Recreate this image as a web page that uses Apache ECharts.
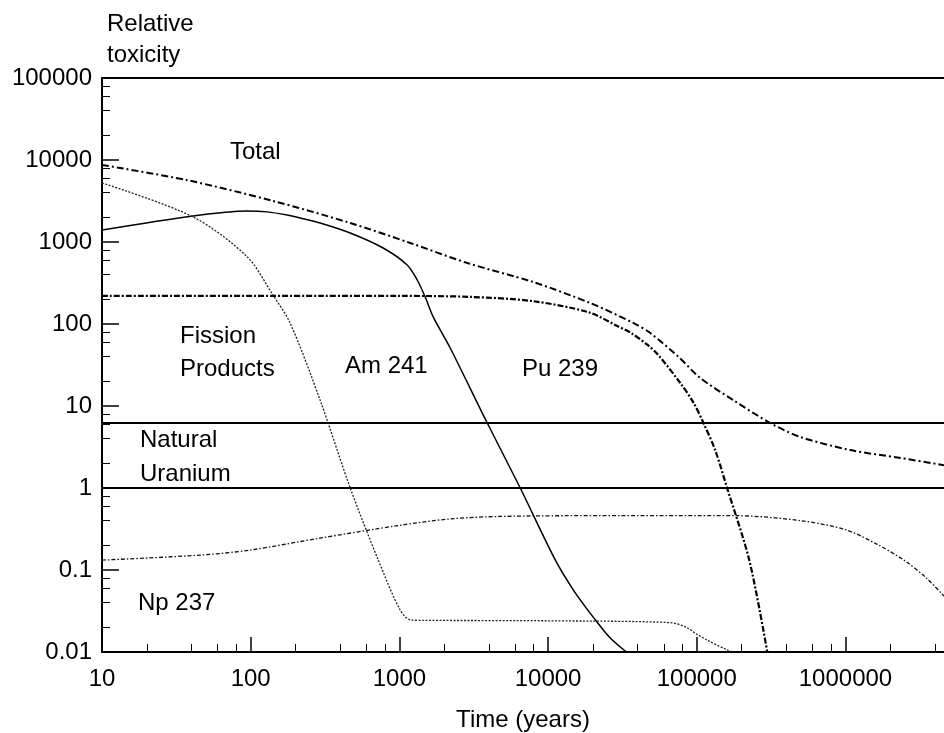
<!DOCTYPE html>
<html>
<head>
<meta charset="utf-8">
<title>Relative toxicity</title>
<script src="https://cdn.jsdelivr.net/npm/echarts@6/dist/echarts.min.js"></script>
<style>
  html, body { margin: 0; padding: 0; background: #fff; }
  #chart { width: 944px; height: 733px; }
</style>
</head>
<body>
<div id="chart"></div>
<script>
// values (years, relative toxicity)
var totalYears = [10, 37, 142, 467, 1183, 2860, 7940, 19200, 37400, 48700, 75000, 105800, 176000, 312000, 498000, 1080000, 2350000, 4600000];
var totalTox   = [8700, 5700, 3160, 1706, 973, 555, 325, 180, 103, 77.6, 40, 21.9, 11.8, 6.2, 4.19, 2.9, 2.32, 1.9];

var fpYears = [10, 300, 1000, 3000, 7900, 19000, 29000, 36000, 46500, 55000, 77600, 95000, 111000, 133000, 160000, 226000, 298000];
var fpTox   = [220, 220, 220, 214, 190, 138, 95, 78, 56, 42, 19, 11, 6.2, 2.9, 1.0, 0.13, 0.01];

var puYears = [10, 41, 95, 129, 176, 215, 293, 467, 778, 1128, 1318, 1492, 1688, 2197, 3900, 6500, 11200, 15000, 20000, 26000, 33600];
var puTox   = [1400, 2080, 2390, 2330, 2130, 1963, 1706, 1288, 845, 525, 344, 213, 122, 51, 6.2, 1.0, 0.132, 0.055, 0.027, 0.015, 0.01];

var amYears = [10, 41, 95, 141, 184, 293, 467, 719, 1012, 1200, 1500, 10350, 66400, 85000, 100000, 117000, 160000, 175000];
var amTox   = [5250, 2020, 656, 226, 103, 11.8, 1.0, 0.134, 0.0325, 0.0245, 0.0243, 0.024, 0.0228, 0.02, 0.0165, 0.014, 0.0106, 0.01];

var npYears = [10, 46, 99, 293, 1000, 2200, 4800, 22000, 180000, 500000, 1000000, 1600000, 2500000, 3500000, 4600000];
var npTox   = [0.132, 0.152, 0.175, 0.245, 0.35, 0.42, 0.45, 0.46, 0.46, 0.40, 0.31, 0.21, 0.13, 0.08, 0.048];

// natural uranium band
var uraniumLevels = [6.2, 1];

var xMin = 10, xMax = 4600000;
var yMin = 0.01, yMax = 100000;
var FONT = 'Liberation Sans, Arial, sans-serif';

function zip(xs, ys) {
  return xs.map(function (x, i) { return [x, ys[i]]; });
}

// minor ticks at 2, 4, 6, 8 of every decade
function minorTicks(fromExp, toExp, lo, hi) {
  var out = [];
  for (var e = fromExp; e <= toExp; e++) {
    [2, 4, 6, 8].forEach(function (m) {
      var v = +(m * Math.pow(10, e)).toPrecision(6);
      if (v > lo && v < hi) out.push(v);
    });
  }
  return out;
}

function fmt(v) { return String(+(+v).toPrecision(6)); }

var myChart = echarts.init(document.getElementById('chart'), null, { renderer: 'canvas' });

var lineBase = { type: 'line', symbol: 'none', smooth: 0.3, silent: true, animation: false };

var option = {
  backgroundColor: '#fff',
  animation: false,
  grid: { left: 102, right: 0, top: 78, bottom: 81, outerBoundsMode: 'none' },
  xAxis: [
    {
      type: 'log', logBase: 10, min: xMin, max: xMax, position: 'bottom',
      name: 'Time (years)', nameLocation: 'middle', nameGap: 56,
      nameTextStyle: { color: '#000', fontSize: 24, fontFamily: FONT },
      axisLine: { show: true, lineStyle: { color: '#000', width: 2 } },
      axisTick: { show: true, inside: true, length: 15, lineStyle: { color: '#000', width: 1.5 } },
      axisLabel: { color: '#000', fontSize: 24, fontFamily: FONT, margin: 15, showMaxLabel: false, formatter: fmt },
      splitLine: { show: false }
    },
    {
      type: 'log', logBase: 10, min: xMin, max: xMax, position: 'bottom',
      axisLine: { show: false },
      axisTick: { show: true, inside: true, length: 8, customValues: minorTicks(1, 6, xMin, xMax), lineStyle: { color: '#000', width: 1 } },
      axisLabel: { show: false },
      splitLine: { show: false }
    },
    {
      type: 'log', logBase: 10, min: xMin, max: xMax, position: 'top',
      axisLine: { show: true, lineStyle: { color: '#000', width: 2 } },
      axisTick: { show: false },
      axisLabel: { show: false },
      splitLine: { show: false }
    }
  ],
  yAxis: [
    {
      type: 'log', logBase: 10, min: yMin, max: yMax, position: 'left',
      axisLine: { show: true, lineStyle: { color: '#000', width: 2 } },
      axisTick: { show: true, inside: true, length: 17, lineStyle: { color: '#000', width: 1.5 } },
      axisLabel: { color: '#000', fontSize: 24, fontFamily: FONT, margin: 10, formatter: fmt },
      splitLine: { show: false }
    },
    {
      type: 'log', logBase: 10, min: yMin, max: yMax, position: 'left',
      axisLine: { show: false },
      axisTick: { show: true, inside: true, length: 8, customValues: minorTicks(-2, 4, yMin, yMax), lineStyle: { color: '#000', width: 1 } },
      axisLabel: { show: false },
      splitLine: { show: false }
    }
  ],
  series: [
    Object.assign({}, lineBase, { name: 'Natural Uranium upper', smooth: false, data: [[xMin, uraniumLevels[0]], [xMax, uraniumLevels[0]]], lineStyle: { color: '#000', width: 2.2 } }),
    Object.assign({}, lineBase, { name: 'Natural Uranium lower', smooth: false, data: [[xMin, uraniumLevels[1]], [xMax, uraniumLevels[1]]], lineStyle: { color: '#000', width: 2.2 } }),
    Object.assign({}, lineBase, { name: 'Total', data: zip(totalYears, totalTox), lineStyle: { color: '#000', width: 2, type: [7, 3, 2, 3] } }),
    Object.assign({}, lineBase, { name: 'Fission Products', data: zip(fpYears, fpTox), lineStyle: { color: '#000', width: 2.2, type: [6, 2, 2, 2] } }),
    Object.assign({}, lineBase, { name: 'Pu 239', data: zip(puYears, puTox), lineStyle: { color: '#000', width: 1.5 } }),
    Object.assign({}, lineBase, { name: 'Am 241', data: zip(amYears, amTox), lineStyle: { color: '#222', width: 1.3, type: [2, 1.5] } }),
    Object.assign({}, lineBase, { name: 'Np 237', data: zip(npYears, npTox), lineStyle: { color: '#111', width: 1.3, type: [4, 2, 1.5, 2] } })
  ],
  graphic: [
    { type: 'text', x: 107, y: 9, style: { text: 'Relative\ntoxicity', font: '24px ' + FONT, fill: '#000', lineHeight: 31, verticalAlign: 'top' } },
    { type: 'text', x: 230, y: 152, style: { text: 'Total', font: '24px ' + FONT, fill: '#000', verticalAlign: 'middle' } },
    { type: 'text', x: 180, y: 336, style: { text: 'Fission', font: '24px ' + FONT, fill: '#000', verticalAlign: 'middle' } },
    { type: 'text', x: 180, y: 369, style: { text: 'Products', font: '24px ' + FONT, fill: '#000', verticalAlign: 'middle' } },
    { type: 'text', x: 345, y: 366, style: { text: 'Am 241', font: '24px ' + FONT, fill: '#000', verticalAlign: 'middle' } },
    { type: 'text', x: 522, y: 369, style: { text: 'Pu 239', font: '24px ' + FONT, fill: '#000', verticalAlign: 'middle' } },
    { type: 'text', x: 140, y: 440, style: { text: 'Natural', font: '24px ' + FONT, fill: '#000', verticalAlign: 'middle' } },
    { type: 'text', x: 140, y: 474, style: { text: 'Uranium', font: '24px ' + FONT, fill: '#000', verticalAlign: 'middle' } },
    { type: 'text', x: 138, y: 603, style: { text: 'Np 237', font: '24px ' + FONT, fill: '#000', verticalAlign: 'middle' } }
  ]
};

myChart.setOption(option);
</script>
</body>
</html>
